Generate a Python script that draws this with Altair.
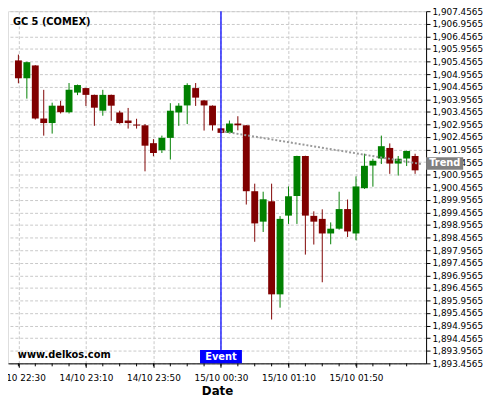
import altair as alt
import pandas as pd

# ---- data (5-minute candles, 14/10 22:30 .. 15/10 02:25) ----
times = pd.date_range("2020-10-14 22:30", periods=48, freq="5min")
opens = [1905.50, 1904.79, 1905.30, 1903.19, 1903.01, 1903.70, 1903.44, 1904.22, 1904.40, 1904.13,
         1903.50, 1904.13, 1903.43, 1903.11, 1902.95, 1902.92, 1902.21, 1901.93, 1902.42, 1903.43,
         1903.71, 1904.40, 1903.91, 1903.70, 1902.80, 1902.62, 1902.99, 1902.92, 1900.30, 1899.09,
         1899.90, 1896.20, 1899.33, 1900.11, 1901.70, 1899.32, 1899.20, 1898.62, 1898.81, 1899.59,
         1898.62, 1900.42, 1901.32, 1901.60, 1902.02, 1901.40, 1901.60, 1901.70]
highs = [1905.73, 1905.45, 1905.31, 1904.33, 1903.82, 1903.89, 1904.60, 1904.54, 1904.41, 1904.14,
         1904.33, 1904.14, 1903.50, 1903.61, 1903.18, 1902.97, 1902.37, 1902.51, 1903.80, 1903.80,
         1904.59, 1904.60, 1903.92, 1903.71, 1902.81, 1903.11, 1903.28, 1902.93, 1900.60, 1900.28,
         1900.60, 1899.31, 1900.49, 1901.71, 1901.71, 1899.50, 1899.58, 1899.06, 1900.28, 1899.97,
         1900.89, 1901.79, 1901.59, 1902.51, 1902.20, 1901.70, 1901.91, 1901.79]
lows = [1904.59, 1903.98, 1903.15, 1902.51, 1902.59, 1903.39, 1903.39, 1904.12, 1903.69, 1902.90,
        1903.30, 1903.10, 1902.98, 1902.79, 1902.79, 1901.09, 1901.69, 1901.82, 1901.56, 1902.90,
        1902.97, 1903.69, 1902.71, 1902.71, 1902.60, 1902.60, 1902.72, 1899.77, 1898.29, 1898.68,
        1895.20, 1895.67, 1899.00, 1899.00, 1897.78, 1898.18, 1896.68, 1898.19, 1898.77, 1898.48,
        1898.35, 1900.39, 1900.48, 1901.38, 1900.99, 1900.92, 1901.30, 1900.99]
closes = [1904.79, 1905.43, 1903.19, 1903.01, 1903.70, 1903.44, 1904.33, 1904.52, 1904.13, 1903.62,
          1904.13, 1903.70, 1903.01, 1903.01, 1902.91, 1902.11, 1901.82, 1902.42, 1903.50, 1903.70,
          1904.52, 1904.02, 1903.71, 1902.92, 1902.62, 1902.99, 1902.92, 1900.30, 1899.02, 1899.98,
          1896.20, 1899.20, 1900.10, 1901.70, 1899.33, 1899.09, 1898.62, 1898.81, 1899.59, 1898.70,
          1900.49, 1901.31, 1901.51, 1902.09, 1901.40, 1901.59, 1901.90, 1901.13]

y_ticks = [round(1893.4565 + 0.5 * i, 4) for i in range(29)]
x_ticks = [(14, 22, 30), (14, 23, 10), (14, 23, 50), (15, 0, 30), (15, 1, 10), (15, 1, 50)]
minor_ticks = pd.date_range("2020-10-14 22:30", "2020-10-15 02:20", freq="10min")

event_time = pd.Timestamp("2020-10-15 00:30")
event_box = [pd.Timestamp("2020-10-15 00:17:35"), pd.Timestamp("2020-10-15 00:42:25")]
trend_times = [pd.Timestamp("2020-10-15 00:30"), pd.Timestamp("2020-10-15 02:28:36")]
trend_values = [1902.69, 1901.38]
trend_label_value = 1901.40

y_min, y_max = 1893.4565, 1907.4565
x_domain = [alt.DateTime(year=2020, month=10, date=14, hours=22, minutes=26, seconds=45),
            alt.DateTime(year=2020, month=10, date=15, hours=2, minutes=28, seconds=36)]

W, H = 425, 358
FONT = "DejaVu Sans"

df = pd.DataFrame({"t": times, "open": opens, "high": highs, "low": lows, "close": closes})
df["dir"] = ["up" if c >= o else "down" for o, c in zip(opens, closes)]

xscale = alt.Scale(domain=x_domain)
yscale = alt.Scale(domain=[y_min, y_max], zero=False, nice=False)
color = alt.Color("dir:N", scale=alt.Scale(domain=["up", "down"], range=["#008000", "#800000"]), legend=None)

x_axis = alt.Axis(
    values=[alt.DateTime(year=2020, month=10, date=d, hours=h, minutes=m) for d, h, m in x_ticks],
    tickCount=50,
    format="%d/%m %H:%M", title="Date", titleFont=FONT, titleFontSize=12, titleFontWeight="bold",
    titleColor="black", titlePadding=4, labelFont=FONT, labelFontSize=9, labelColor="black",
    labelPadding=6, labelFlush=False, labelOverlap=False, tickSize=4, tickColor="black",
    domainColor="black", grid=True, gridColor="#c8c8c8", gridDash=[3, 2], zindex=0)
y_axis = alt.Axis(
    orient="right", values=y_ticks, tickCount=50, format=",.4f", title=None, labelFont=FONT,
    labelFontSize=9, labelColor="black", labelPadding=2, labelOverlap=False, labelFlush=False,
    tickSize=4, tickColor="black", domainColor="black", grid=True, gridColor="#c8c8c8",
    gridDash=[3, 2], zindex=0)

base = alt.Chart(df)
wicks = base.mark_rule(strokeWidth=1).encode(
    x=alt.X("t:T", scale=xscale, axis=x_axis),
    y=alt.Y("low:Q", scale=yscale, axis=y_axis),
    y2="high:Q",
    color=color)
bodies = base.mark_bar(width=7).encode(x="t:T", y="open:Q", y2="close:Q", color=color)

minor = alt.Chart(pd.DataFrame({"t": minor_ticks})).mark_rule(color="black", strokeWidth=1).encode(
    x="t:T", y=alt.value(H), y2=alt.value(H + 3))

trend_df = pd.DataFrame({"t": trend_times, "v": trend_values})
trend = alt.Chart(trend_df).mark_line(color="#999999", strokeWidth=2, strokeDash=[2, 2]).encode(
    x="t:T", y="v:Q")

event_df = pd.DataFrame({"t": [event_time], "t0": [event_box[0]], "t1": [event_box[1]],
                         "label": ["Event"]})
event_line = alt.Chart(event_df).mark_rule(color="#0000ff", strokeWidth=1.3).encode(x="t:T")
event_rect = alt.Chart(event_df).mark_rect(color="#0000ff").encode(
    x="t0:T", x2="t1:T", y=alt.value(H - 13.5), y2=alt.value(H))
event_text = alt.Chart(event_df).mark_text(
    color="white", font=FONT, fontSize=10, fontWeight="bold", baseline="middle", align="center").encode(
    x="t:T", y=alt.value(H - 6.5), text="label:N")

trend_lab_df = pd.DataFrame({"v": [trend_label_value], "lo": [trend_label_value - 0.25],
                             "hi": [trend_label_value + 0.25], "label": ["Trend"]})
trend_rect = alt.Chart(trend_lab_df).mark_rect(color="#808080").encode(
    x=alt.value(W), x2=alt.value(W + 37.7), y="lo:Q", y2="hi:Q")
trend_text = alt.Chart(trend_lab_df).mark_text(
    color="white", font=FONT, fontSize=10, fontWeight="bold", baseline="middle", align="center").encode(
    x=alt.value(W + 19), y="v:Q", text="label:N")

title = alt.Chart(pd.DataFrame({"label": ["GC 5 (COMEX)"]})).mark_text(
    font=FONT, fontSize=10, fontWeight="bold", color="black", align="left", baseline="middle").encode(
    x=alt.value(5), y=alt.value(11), text="label:N")
watermark = alt.Chart(pd.DataFrame({"label": ["www.delkos.com"]})).mark_text(
    font=FONT, fontSize=10, fontWeight="bold", color="black", align="left", baseline="middle").encode(
    x=alt.value(10), y=alt.value(349.5), text="label:N")

chart = alt.layer(
    wicks, bodies, minor, trend, event_line, event_rect, event_text, trend_rect, trend_text,
    title, watermark
).properties(
    width=W, height=H,
    autosize=alt.AutoSizeParams(type="none"),
    padding={"left": 0, "top": 0, "right": 67, "bottom": 34},
).configure_view(strokeWidth=0).configure(font=FONT)

chart.save("out.html", embed_options={"renderer": "svg", "actions": False})
